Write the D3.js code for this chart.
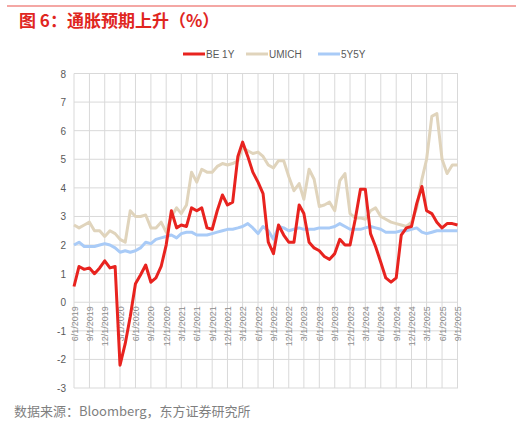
<!DOCTYPE html>
<html><head><meta charset="utf-8">
<script src="https://cdn.jsdelivr.net/npm/d3@7"></script>
<style>body{margin:0;background:#fff;font-family:"Liberation Sans",Arial,sans-serif}</style>
</head><body>
<script>
// monthly, 6/2019 .. 9/2025
var startMonth = "2019-06", endMonth = "2025-09";
var tickLabels = ["6/1/2019","9/1/2019","12/1/2019","3/1/2020","6/1/2020","9/1/2020","12/1/2020","3/1/2021","6/1/2021","9/1/2021","12/1/2021","3/1/2022","6/1/2022","9/1/2022","12/1/2022","3/1/2023","6/1/2023","9/1/2023","12/1/2023","3/1/2024","6/1/2024","9/1/2024","12/1/2024","3/1/2025","6/1/2025","9/1/2025"];
var yTicks = [-3,-2,-1,0,1,2,3,4,5,6,7,8];

var be1y = [0.55,1.25,1.15,1.2,1.0,1.2,1.45,
  1.2,1.25,-2.2,-1.45,-0.5,0.65,0.95,1.3,0.7,0.85,1.25,2.0,
  3.2,2.6,2.7,2.65,3.3,3.2,3.3,2.6,2.55,3.2,3.75,3.4,
  3.5,5.1,5.6,5.1,4.55,4.2,3.8,2.1,1.7,2.7,2.35,2.1,
  2.1,3.4,3.1,2.1,1.9,1.8,1.6,1.5,1.7,2.2,2.0,2.0,
  2.9,3.95,3.95,2.4,1.95,1.4,0.85,0.7,0.85,2.35,2.6,2.65,
  3.45,4.05,3.2,3.1,2.8,2.6,2.75,2.75,2.7];
var umich = [2.7,2.6,2.7,2.8,2.5,2.5,2.3,
  2.5,2.4,2.2,2.1,3.2,3.0,3.0,3.05,2.6,2.6,2.8,2.45,
  3.0,3.3,3.1,3.4,4.55,4.2,4.65,4.55,4.55,4.75,4.85,4.8,
  4.85,4.95,5.4,5.3,5.2,5.25,5.1,4.8,4.7,4.95,4.95,4.4,
  3.9,4.15,3.6,4.65,4.3,3.35,3.4,3.5,3.2,4.25,4.5,3.1,
  2.95,2.95,2.9,3.2,3.3,3.0,2.9,2.8,2.75,2.7,2.65,2.8,
  3.3,4.3,5.0,6.5,6.6,5.0,4.5,4.8,4.8];
var y5y5 = [2.0,2.1,1.95,1.95,1.95,2.0,2.05,
  2.0,1.9,1.75,1.8,1.75,1.8,1.9,2.1,2.05,2.2,2.25,2.3,
  2.35,2.25,2.4,2.45,2.45,2.35,2.35,2.35,2.4,2.45,2.5,2.55,
  2.55,2.6,2.65,2.75,2.6,2.4,2.65,2.5,2.2,2.65,2.6,2.5,
  2.55,2.6,2.55,2.55,2.55,2.6,2.6,2.6,2.65,2.75,2.65,2.55,
  2.55,2.55,2.6,2.65,2.6,2.55,2.45,2.45,2.45,2.5,2.5,2.55,
  2.6,2.45,2.4,2.45,2.5,2.5,2.5,2.5,2.5];

var seriesNames = ["BE 1Y","UMICH","5Y5Y"];
var seriesColors = ["#e8231f","#e0d4bc","#a9cbf7"];
var seriesData = [be1y, umich, y5y5];

var W = 522, H = 432;
var svg = d3.select("body").append("svg").attr("width",W).attr("height",H);

// top rule + title
svg.append("line").attr("x1",7).attr("x2",516).attr("y1",6).attr("y2",6)
  .attr("stroke","#f08a86").attr("stroke-width",1.5);
svg.append("text").attr("x",19).attr("y",27)
  .attr("style","font-family:'Noto Sans CJK SC';font-size:17px;font-weight:bold;fill:#e0261f")
  .text("图 6：通胀预期上升（%）");

var parse = d3.timeParse("%Y-%m");
var months = d3.timeMonth.range(parse(startMonth), d3.timeMonth.offset(parse(endMonth),1));
var x = d3.scaleTime().domain([months[0], months[months.length-1]]).range([74,457.5]);
var y = d3.scaleLinear().domain([-3,8]).range([388,73.5]);
var fmt = d3.timeParse("%m/%d/%Y");
var tickDates = tickLabels.map(function(s){return fmt(s);});

var g = svg.append("g");
// grid
g.selectAll(".hg").data(yTicks).enter().append("line")
  .attr("x1",74).attr("x2",458).attr("y1",function(d){return y(d);}).attr("y2",function(d){return y(d);})
  .attr("stroke","#d9d9d9").attr("stroke-width",1);
g.selectAll(".vg").data(tickDates).enter().append("line")
  .attr("x1",function(d){return x(d);}).attr("x2",function(d){return x(d);})
  .attr("y1",y(8)).attr("y2",y(-3))
  .attr("stroke","#d9d9d9").attr("stroke-width",1);

// y labels
g.selectAll(".yl").data(yTicks).enter().append("text")
  .attr("x",66).attr("y",function(d){return y(d)+4;})
  .attr("text-anchor","end").attr("style","font-size:10px;fill:#595959")
  .text(function(d){return d;});

// x labels (rotated, below zero line)
g.selectAll(".xl").data(tickDates).enter().append("text")
  .attr("transform",function(d,i){return "translate("+(x(d)+3.5)+","+(y(0)+4)+") rotate(-90)";})
  .attr("text-anchor","end").attr("style","font-size:9px;fill:#8c8c8c")
  .text(function(d,i){return tickLabels[i];});

// lines (draw order: 5Y5Y, UMICH, BE 1Y on top)
var line = d3.line().x(function(d,i){return x(months[i]);}).y(function(d){return y(d);});
[2,1,0].forEach(function(k){
  g.append("path").datum(seriesData[k]).attr("d",line)
    .attr("fill","none").attr("stroke",seriesColors[k]).attr("stroke-width",3)
    .attr("stroke-linejoin","round");
});

// legend
var legX = [183,246,318];
seriesNames.forEach(function(n,k){
  svg.append("line").attr("x1",legX[k]).attr("x2",legX[k]+22).attr("y1",54).attr("y2",54)
    .attr("stroke",seriesColors[k]).attr("stroke-width",3);
  svg.append("text").attr("x",legX[k]+23).attr("y",58)
    .attr("style","font-size:10px;fill:#595959").text(n);
});

// source
svg.append("text").attr("x",14).attr("y",416)
  .attr("style","font-family:'Noto Sans CJK SC';font-size:13px;fill:#7f7f7f")
  .text("数据来源：Bloomberg，东方证券研究所");
</script>
</body></html>
